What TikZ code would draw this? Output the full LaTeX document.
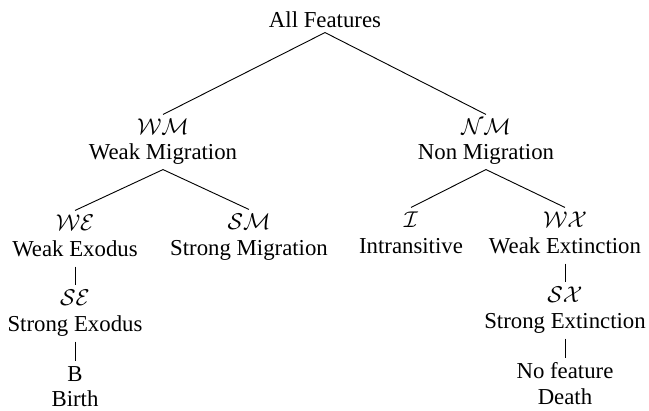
\documentclass[tikz,border=0pt]{standalone}
\usepackage{fontspec}
\setmainfont{Liberation Serif}
\tikzset{
  lbl/.style={anchor=base, inner sep=0pt, outer sep=2pt, text height=0.7em, text depth=0.22em},
  link/.style={draw=black, line width=0.4pt}
}
\begin{document}
\begin{tikzpicture}[x=0.4386pt, y=-0.4386pt]
\useasboundingbox (0,0) rectangle (649,411);

% root
\node[lbl, text depth=0pt] (af) at (325,28) {All Features};

% first level
\node[lbl] (wm)  at (163,135) {$\mathcal{WM}$};
\node[lbl] (wml) at (163,160) {Weak Migration};
\node[lbl] (nm)  at (486,135) {$\mathcal{NM}$};
\node[lbl] (nml) at (486,160) {Non Migration};

% second level
\node[lbl] (we)  at (75,231)  {$\mathcal{WE}$};
\node[lbl] (wel) at (75,257)  {Weak Exodus};
\node[lbl] (sm)  at (249,230) {$\mathcal{SM}$};
\node[lbl] (sml) at (249,256) {Strong Migration};
\node[lbl] (in)  at (411,228) {$\mathcal{I}$};
\node[lbl] (inl) at (411,254) {Intransitive};
\node[lbl] (wx)  at (565,228) {$\mathcal{WX}$};
\node[lbl] (wxl) at (565,254) {Weak Extinction};

% third level
\node[lbl] (se)  at (75,306)  {$\mathcal{SE}$};
\node[lbl] (sel) at (75,332)  {Strong Exodus};
\node[lbl] (sx)  at (565,303) {$\mathcal{SX}$};
\node[lbl] (sxl) at (565,329) {Strong Extinction};

% leaves
\node[lbl] (b)   at (75,382)  {B};
\node[lbl] (bl)  at (75,407)  {Birth};
\node[lbl] (nf)  at (565,379) {No feature};
\node[lbl] (nfl) at (565,405) {Death};

% connectors
\draw[link] (af.south) -- (wm.north);
\draw[link] (af.south) -- (nm.north);
\draw[link] (wml.south) -- (we.north);
\draw[link] (wml.south) -- (sm.north);
\draw[link] (nml.south) -- (in.north);
\draw[link] (nml.south) -- (wx.north);
\draw[link] (wel.south) -- (se.north);
\draw[link] (wxl.south) -- (sx.north);
\draw[link] (sel.south) -- (b.north);
\draw[link] (sxl.south) -- (nf.north);
\end{tikzpicture}
\end{document}
